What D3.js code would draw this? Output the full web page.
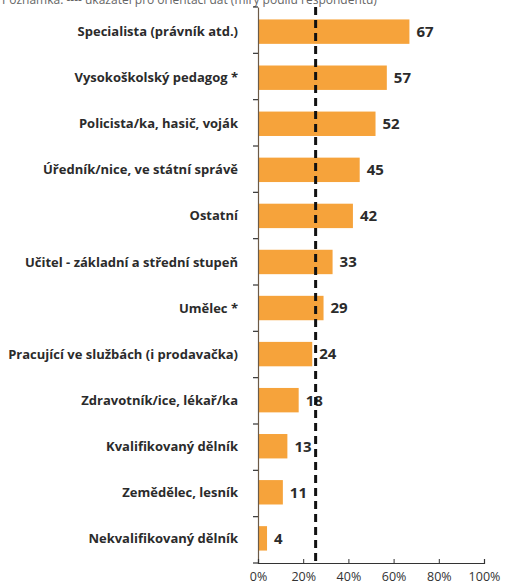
<!DOCTYPE html>
<html>
<head>
<meta charset="utf-8">
<script src="https://cdn.jsdelivr.net/npm/d3@7"></script>
<style>
  body { margin: 0; background: #fff; }
  svg { display: block; }
  .cat { font-family: "Open Sans", sans-serif; font-weight: 700; font-size: 13px; fill: #2b2b2b; }
  .val { font-family: "Open Sans", sans-serif; font-weight: 700; font-size: 15px; fill: #2b2b2b; }
  .tick text { font-family: "Open Sans", sans-serif; font-size: 12.5px; fill: #333; }
</style>
</head>
<body>
<svg id="chart" width="505" height="587"></svg>
<script>
var categories = [
  'Specialista (právník atd.)',
  'Vysokoškolský pedagog *',
  'Policista/ka, hasič, voják',
  'Úředník/nice, ve státní správě',
  'Ostatní',
  'Učitel - základní a střední stupeň',
  'Umělec *',
  'Pracující ve službách (i prodavačka)',
  'Zdravotník/ice, lékař/ka',
  'Kvalifikovaný dělník',
  'Zemědělec, lesník',
  'Nekvalifikovaný dělník'
];
var values = [67, 57, 52, 45, 42, 33, 29, 24, 18, 13, 11, 4];
var referenceValue = 25.5;
var xTicks = [0, 20, 40, 60, 80, 100];
var noteText = 'Poznámka: ---- ukazatel pro orientaci dat (míry podílu respondentů)';

var LEFT = 258, RIGHT = 484, TOP = 7, BOTTOM = 563;

var svg = d3.select('#chart');

var x = d3.scaleLinear().domain([0, 100]).range([LEFT, RIGHT]);
var y = d3.scaleBand().domain(categories).range([TOP, BOTTOM]).paddingInner(0.47).paddingOuter(0.27);

// note at the very top (cut by the frame, as in the source)
svg.append('text')
  .attr('x', 2).attr('y', 4)
  .attr('font-family', 'Open Sans, sans-serif')
  .attr('font-size', 12)
  .attr('fill', '#666')
  .text(noteText);

// bars
svg.selectAll('.bar')
  .data(values)
  .enter().append('rect')
  .attr('class', 'bar')
  .attr('x', x(0))
  .attr('y', function (d, i) { return y(categories[i]); })
  .attr('width', function (d) { return x(d) - x(0); })
  .attr('height', y.bandwidth())
  .attr('fill', '#f6a33b');

// category axis
var yAxis = d3.axisLeft(y).tickSize(0).tickFormat('');
var yg = svg.append('g').attr('transform', 'translate(' + LEFT + ',0)').call(yAxis);
yg.select('.domain').attr('stroke', '#6b5a48').attr('stroke-width', 1.2);

// boundary ticks between categories
var bounds = d3.range(categories.length + 1).map(function (k) {
  return TOP + k * (BOTTOM - TOP) / categories.length;
});
svg.selectAll('.btick')
  .data(bounds)
  .enter().append('line')
  .attr('class', 'btick')
  .attr('x1', LEFT - 5).attr('x2', LEFT)
  .attr('y1', function (d) { return d; })
  .attr('y2', function (d) { return d; })
  .attr('stroke', '#333').attr('stroke-width', 1.2);

svg.selectAll('.cat')
  .data(categories)
  .enter().append('text')
  .attr('class', 'cat')
  .attr('x', LEFT - 20)
  .attr('y', function (d) { return y(d) + y.bandwidth() / 2; })
  .attr('dy', '0.35em')
  .attr('text-anchor', 'end')
  .text(function (d) { return d; });

// value labels
svg.selectAll('.val')
  .data(values)
  .enter().append('text')
  .attr('class', 'val')
  .attr('x', function (d) { return x(d) + 7; })
  .attr('y', function (d, i) { return y(categories[i]) + y.bandwidth() / 2; })
  .attr('dy', '0.36em')
  .text(function (d) { return d; });

// x axis
var xAxis = d3.axisBottom(x).tickValues(xTicks).tickSize(-4).tickPadding(9)
  .tickFormat(function (d) { return d + '%'; });
var xg = svg.append('g').attr('transform', 'translate(0,' + BOTTOM + ')').call(xAxis);
xg.select('.domain').attr('stroke', '#333').attr('stroke-width', 1.2);
xg.selectAll('.tick line').attr('stroke', '#333');

// reference dashed line
svg.append('line')
  .attr('x1', x(referenceValue)).attr('x2', x(referenceValue))
  .attr('y1', TOP).attr('y2', BOTTOM)
  .attr('stroke', '#111')
  .attr('stroke-width', 3)
  .attr('stroke-dasharray', '8,5');
</script>
</body>
</html>
